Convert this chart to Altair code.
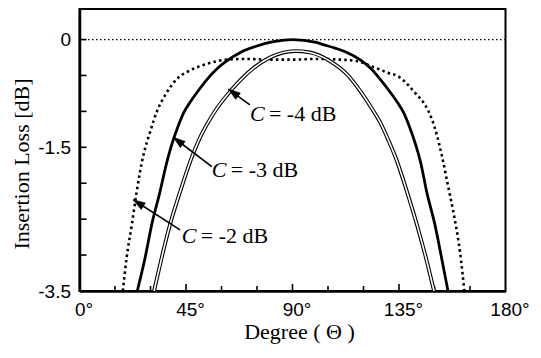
import math
import altair as alt
import pandas as pd

# ---------------- data ----------------
# C = -2 dB (dotted)
x_c2 = [18.3, 19.9, 22.1, 24.2, 27.0, 29.8, 32.6, 36.8, 41.1, 46.7, 53.7, 62.2, 70.0, 80.0,
        90.0, 100.0, 110.0, 117.1, 124.1, 130.0, 135.0, 138.5, 142.0, 145.2, 148.8, 151.0,
        153.0, 155.8, 158.6, 160.8, 162.6]
y_c2 = [-3.5, -3.04, -2.58, -2.11, -1.61, -1.29, -1.01, -0.74, -0.55, -0.43, -0.34, -0.28, -0.27, -0.28,
        -0.28, -0.27, -0.28, -0.30, -0.38, -0.46, -0.52, -0.62, -0.75, -0.87, -1.10, -1.33,
        -1.60, -2.05, -2.51, -2.96, -3.5]

# C = -3 dB (thick solid)
x_c3 = [24.4, 27.7, 30.5, 34.0, 36.8, 39.0, 41.5, 44.0, 47.0, 50.0, 54.0, 58.0, 62.5, 68.0,
        75.0, 82.0, 90.0, 100.0, 103.0, 108.0, 113.0, 118.5, 123.0, 127.0, 131.0, 134.0,
        137.0, 139.5, 142.0, 144.2, 146.7, 150.2, 153.0, 155.7]
y_c3 = [-3.5, -3.04, -2.58, -2.12, -1.72, -1.46, -1.22, -1.02, -0.86, -0.72, -0.55, -0.41, -0.29, -0.18,
        -0.09, -0.03, 0.0, -0.04, -0.07, -0.12, -0.18, -0.28, -0.40, -0.55, -0.72, -0.86,
        -1.02, -1.22, -1.46, -1.72, -2.12, -2.58, -3.04, -3.5]

# C = -4 dB (double line)
x_c4 = [31.5, 34.7, 38.2, 42.5, 47.2, 50.7, 54.4, 58.0, 62.2, 66.4, 73.4, 80.5, 91.0, 97.4,
        105.8, 112.9, 118.5, 124.1, 127.0, 130.5, 134.0, 138.2, 142.6, 146.4, 149.8]
y_c4 = [-3.5, -3.04, -2.58, -2.12, -1.66, -1.38, -1.15, -0.96, -0.78, -0.62, -0.40, -0.25, -0.16, -0.18,
        -0.30, -0.48, -0.71, -0.99, -1.15, -1.40, -1.68, -2.10, -2.58, -3.04, -3.5]

# annotations
ann_c = ["C", "C", "C"]
ann_rest = ["= -4 dB", "= -3 dB", "= -2 dB"]
ann_text_x = [72.0, 55.9, 43.2]
ann_text_y = [-1.13, -1.91, -2.83]
ann_tip_x = [62.9, 39.6, 22.7]
ann_tip_y = [-0.69, -1.36, -2.23]
ann_tail_x = [72.0, 55.9, 42.5]
ann_tail_y = [-0.91, -1.77, -2.65]

# axis ticks / labels
x_label_values = [0, 45, 90, 135, 180]
x_minor_ticks = [15, 30, 60, 75, 105, 120, 150, 165]
x_major_ticks = [45, 90, 135]
y_label_values = [0, -1.5, -3.5]
y_ticks = [0, -0.5, -1.0, -1.5, -2.0, -2.5, -3.0]

# ---------------- layout ----------------
W, H = 426, 282
X_DOM = [0, 180]
Y_DOM = [-3.5, 0.425]
PX_X = W / (X_DOM[1] - X_DOM[0])
PX_Y = H / (Y_DOM[1] - Y_DOM[0])
MINOR_LEN, MAJOR_LEN = 5, 7  # inward tick lengths, pixels

xs = alt.Scale(domain=X_DOM, nice=False, zero=False)
ys = alt.Scale(domain=Y_DOM, nice=False, zero=False)

SANS = "Liberation Sans"
SERIF = "Liberation Serif"

x_label_axis = alt.Axis(
    orient="bottom", values=x_label_values, labelExpr="datum.value + '°'",
    ticks=False, labelPadding=9, labelFont=SANS, labelFontSize=19, labelOffset=4,
    labelFlush=False, domainWidth=2.5, grid=False,
    title="Degree ( Θ )", titleFont=SERIF, titleFontSize=22, titleFontWeight="normal",
    titleX=219.5, titleY=47.5, titleBaseline="alphabetic", titleAlign="center",
)
y_label_axis = alt.Axis(
    orient="left", values=y_label_values,
    labelExpr="datum.value == 0 ? '0' : (datum.value == -1.5 ? '-1.5' : '-3.5')",
    ticks=False, labelPadding=9, labelFont=SANS, labelFontSize=19, labelFlush=False,
    domainWidth=2.5, grid=False,
    title="Insertion Loss [dB]", titleFont=SERIF, titleFontSize=22, titleFontWeight="normal",
    titleX=-51, titleY=154.5, titleAngle=270, titleBaseline="alphabetic", titleAlign="center",
)


def X(field):
    return alt.X(field, scale=xs, axis=x_label_axis)


def Y(field):
    return alt.Y(field, scale=ys, axis=y_label_axis)


df_c2 = pd.DataFrame({"deg": x_c2, "il": y_c2})
df_c3 = pd.DataFrame({"deg": x_c3, "il": y_c3})
df_c4 = pd.DataFrame({"deg": x_c4, "il": y_c4})

angles = []
for tx, ty, sx, sy in zip(ann_tip_x, ann_tip_y, ann_tail_x, ann_tail_y):
    a = math.degrees(math.atan2((tx - sx) * PX_X, (ty - sy) * PX_Y)) % 360
    angles.append(a)

df_ann = pd.DataFrame({
    "c": ann_c, "rest": ann_rest, "tx": ann_text_x, "ty": ann_text_y,
    "hx": ann_tip_x, "hy": ann_tip_y, "sx": ann_tail_x, "sy": ann_tail_y, "ang": angles,
})

# inward ticks as short rules starting at the axis lines
df_xticks = pd.DataFrame({
    "deg": x_minor_ticks + x_major_ticks,
    "il": [Y_DOM[0]] * (len(x_minor_ticks) + len(x_major_ticks)),
    "il2": [Y_DOM[0] + MINOR_LEN / PX_Y] * len(x_minor_ticks)
           + [Y_DOM[0] + MAJOR_LEN / PX_Y] * len(x_major_ticks),
})
df_yticks = pd.DataFrame({
    "il": y_ticks,
    "deg": [X_DOM[0]] * len(y_ticks),
    "deg2": [X_DOM[0] + MAJOR_LEN / PX_X] * len(y_ticks),
})

xt = alt.Chart(df_xticks).mark_rule(color="black", strokeWidth=1.6).encode(
    x=X("deg:Q"), y=Y("il:Q"), y2="il2:Q"
)
yt = alt.Chart(df_yticks).mark_rule(color="black", strokeWidth=1.6).encode(
    x=X("deg:Q"), x2="deg2:Q", y=Y("il:Q")
)

zero = alt.Chart(pd.DataFrame({"il": [0.0]})).mark_rule(
    color="black", strokeWidth=1.2, strokeDash=[1.5, 2.5]
).encode(y=Y("il:Q"))

c2 = alt.Chart(df_c2).mark_line(
    color="black", strokeWidth=2.6, strokeDash=[2.5, 3.2], interpolate="monotone", clip=True
).encode(x=X("deg:Q"), y=Y("il:Q"))

c3 = alt.Chart(df_c3).mark_line(
    color="black", strokeWidth=2.8, interpolate="monotone", clip=True
).encode(x=X("deg:Q"), y=Y("il:Q"))

c4_outer = alt.Chart(df_c4).mark_line(
    color="black", strokeWidth=3.8, interpolate="monotone", clip=True
).encode(x=X("deg:Q"), y=Y("il:Q"))

c4_inner = alt.Chart(df_c4).mark_line(
    color="white", strokeWidth=1.6, interpolate="monotone", clip=True
).encode(x=X("deg:Q"), y=Y("il:Q"))

shafts = alt.Chart(df_ann).mark_rule(color="black", strokeWidth=1.6).encode(
    x=X("sx:Q"), y=Y("sy:Q"), x2="hx:Q", y2="hy:Q",
)

heads = alt.Chart(df_ann).mark_point(
    shape="M0,0L-0.33,1L0.33,1Z", size=576, filled=True, fill="black",
    stroke="black", strokeWidth=0.5, opacity=1,
).encode(
    x=X("hx:Q"), y=Y("hy:Q"),
    angle=alt.Angle("ang:Q", scale=None),
)

txt_c = alt.Chart(df_ann).mark_text(
    font=SERIF, fontSize=22, fontStyle="italic", align="left", baseline="alphabetic", color="black"
).encode(x=X("tx:Q"), y=Y("ty:Q"), text="c:N")

txt_rest = alt.Chart(df_ann).mark_text(
    font=SERIF, fontSize=22, align="left", baseline="alphabetic", color="black", dx=19
).encode(x=X("tx:Q"), y=Y("ty:Q"), text="rest:N")

chart = alt.layer(
    xt, yt, zero, c2, c3, c4_outer, c4_inner, shafts, heads, txt_c, txt_rest
).properties(
    width=W, height=H,
    autosize=alt.AutoSizeParams(type="none"),
    padding={"left": 71.5, "top": 1, "right": 27, "bottom": 53},
).configure_view(
    stroke="black", strokeWidth=2
).configure_axis(
    grid=False, domainColor="black", tickColor="black", labelColor="black", titleColor="black"
)

chart.save("out.html", embed_options={"renderer": "svg", "actions": False})
